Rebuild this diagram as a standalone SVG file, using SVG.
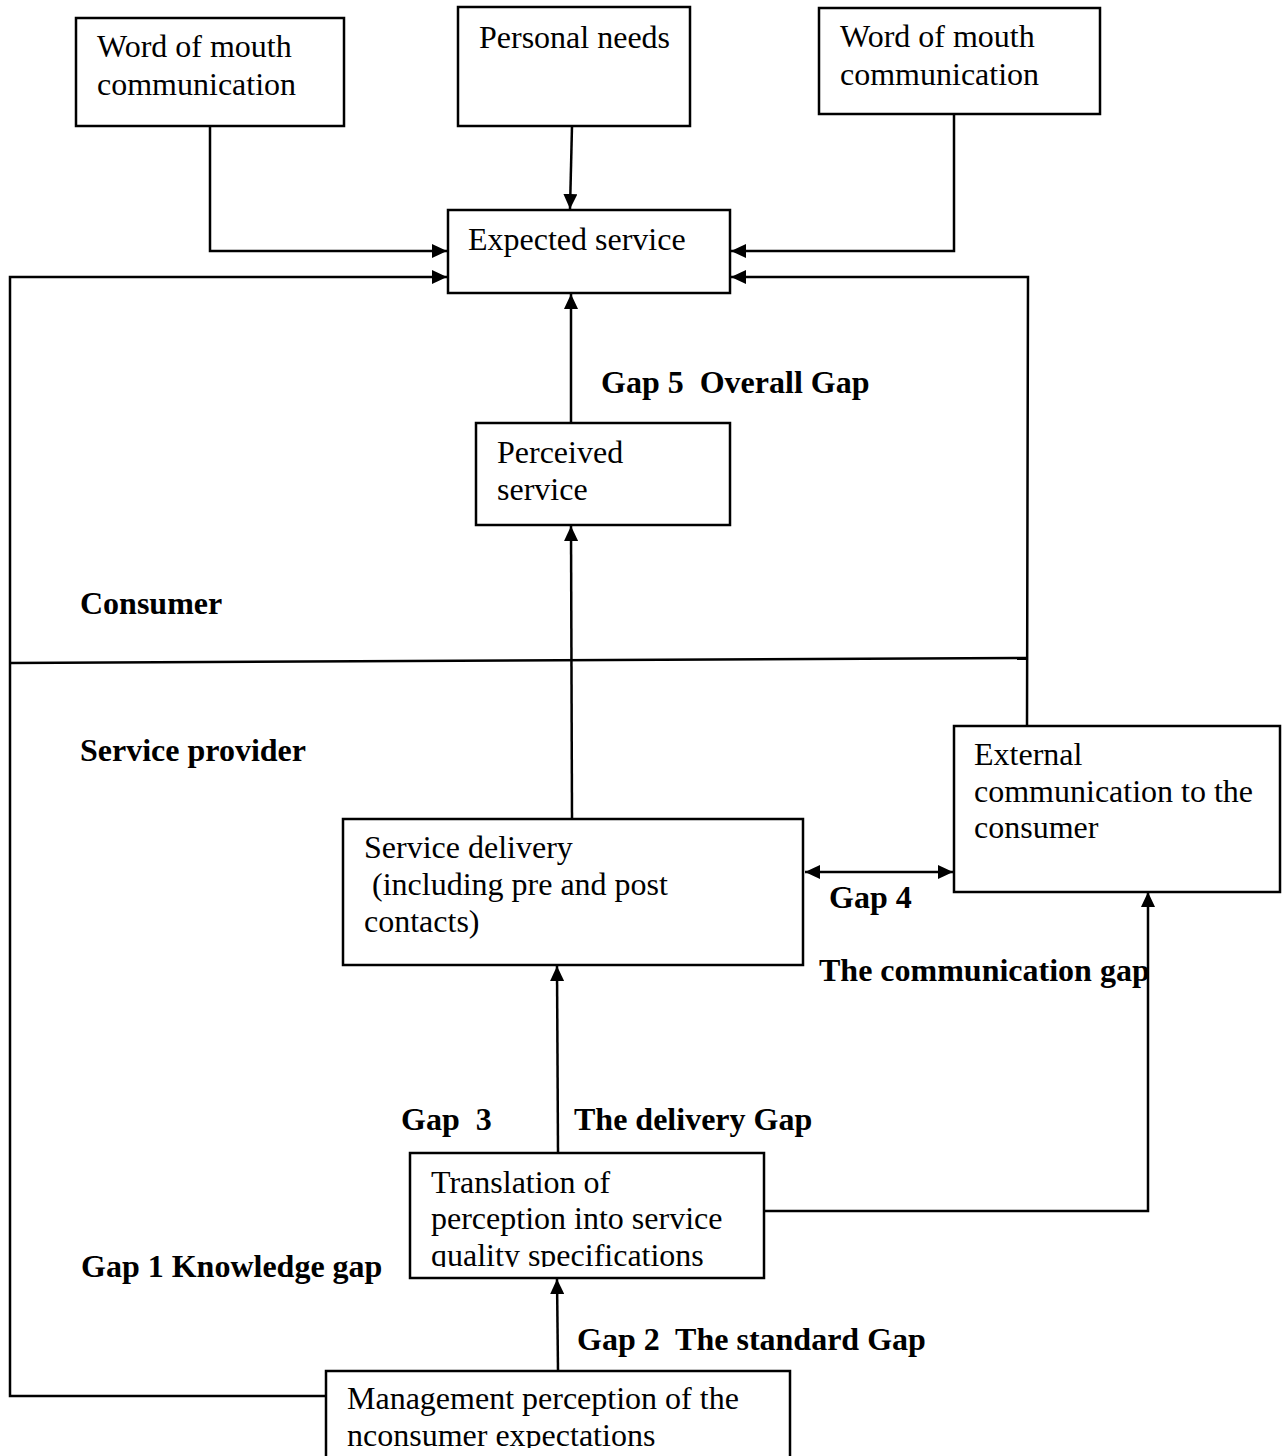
<svg xmlns="http://www.w3.org/2000/svg" width="1282" height="1456" viewBox="0 0 1282 1456">
<style>
.box{fill:#fff;stroke:#000;stroke-width:2.5}
.t{font-family:"Liberation Serif","Times New Roman",serif;font-size:32px;fill:#000}
.b{font-family:"Liberation Serif","Times New Roman",serif;font-size:32px;font-weight:bold;fill:#000}
.c{fill:none;stroke:#000;stroke-width:2.5}
</style>
<defs>
<marker id="ah" markerUnits="userSpaceOnUse" markerWidth="16" markerHeight="14" refX="15" refY="7" orient="auto-start-reverse">
<path d="M0,0 L15,7 L0,14 Z" fill="#000"/>
</marker>
<clipPath id="clipT"><rect x="409" y="1153" width="356" height="114"/></clipPath>
<clipPath id="clipM"><rect x="326" y="1371" width="465" height="77"/></clipPath>
</defs>
<rect width="1282" height="1456" fill="#fff"/>

<g id="connectors">
<polyline class="c" points="210,126 210,251 447,251" marker-end="url(#ah)"/>
<line class="c" x1="572" y1="126" x2="570" y2="209" marker-end="url(#ah)"/>
<polyline class="c" points="954,114 954,251 731,251" marker-end="url(#ah)"/>
<polyline class="c" points="326,1396 10,1396 10,277 447,277" marker-end="url(#ah)"/>
<polyline class="c" points="1027,726 1028,277 731,277" marker-end="url(#ah)"/>
<line class="c" x1="571" y1="423" x2="571" y2="294" marker-end="url(#ah)"/>
<line class="c" x1="572" y1="819" x2="571" y2="526" marker-end="url(#ah)"/>
<line class="c" x1="10" y1="663" x2="1027" y2="658"/>
<line class="c" x1="805" y1="872" x2="953" y2="872" marker-start="url(#ah)" marker-end="url(#ah)"/>
<polyline class="c" points="764,1211 1148,1211 1148,892" marker-end="url(#ah)"/>
<line class="c" x1="558" y1="1153" x2="557" y2="966" marker-end="url(#ah)"/>
<line class="c" x1="558" y1="1371" x2="557" y2="1279" marker-end="url(#ah)"/>
</g>

<g id="node-wom-left">
<rect class="box" x="76" y="18" width="268" height="108"/>
<text class="t" x="97" y="57">Word of mouth</text>
<text class="t" x="97" y="95">communication</text>
</g>
<g id="node-personal-needs">
<rect class="box" x="458" y="7" width="232" height="119"/>
<text class="t" x="479" y="48">Personal needs</text>
</g>
<g id="node-wom-right">
<rect class="box" x="819" y="8" width="281" height="106"/>
<text class="t" x="840" y="47">Word of mouth</text>
<text class="t" x="840" y="85">communication</text>
</g>
<g id="node-expected">
<rect class="box" x="448" y="210" width="282" height="83"/>
<text class="t" x="468" y="250">Expected service</text>
</g>
<g id="node-perceived">
<rect class="box" x="476" y="423" width="254" height="102"/>
<text class="t" x="497" y="463">Perceived</text>
<text class="t" x="497" y="500">service</text>
</g>
<g id="node-service-delivery">
<rect class="box" x="343" y="819" width="460" height="146"/>
<text class="t" x="364" y="858">Service delivery</text>
<text class="t" x="364" y="895" xml:space="preserve"> (including pre and post</text>
<text class="t" x="364" y="932">contacts)</text>
</g>
<g id="node-external">
<rect class="box" x="954" y="726" width="326" height="166"/>
<text class="t" x="974" y="765">External</text>
<text class="t" x="974" y="802">communication to the</text>
<text class="t" x="974" y="838">consumer</text>
</g>
<g id="node-translation">
<rect class="box" x="410" y="1153" width="354" height="125"/>
<g clip-path="url(#clipT)">
<text class="t" x="431" y="1193">Translation of</text>
<text class="t" x="431" y="1229">perception into service</text>
<text class="t" x="431" y="1266">quality specifications</text>
</g>
</g>
<g id="node-management">
<rect class="box" x="326" y="1371" width="464" height="110"/>
<g clip-path="url(#clipM)">
<text class="t" x="347" y="1409">Management perception of the</text>
<text class="t" x="347" y="1446">nconsumer expectations</text>
</g>
</g>

<g id="labels">
<text class="b" x="601" y="393" xml:space="preserve">Gap 5  Overall Gap</text>
<text class="b" x="80" y="614">Consumer</text>
<text class="b" x="80" y="761">Service provider</text>
<text class="b" x="829" y="908">Gap 4</text>
<text class="b" x="819" y="981">The communication gap</text>
<text class="b" x="401" y="1130" xml:space="preserve">Gap  3</text>
<text class="b" x="574" y="1130">The delivery Gap</text>
<text class="b" x="81" y="1277">Gap 1 Knowledge gap</text>
<text class="b" x="577" y="1350" xml:space="preserve">Gap 2  The standard Gap</text>
</g>
</svg>
